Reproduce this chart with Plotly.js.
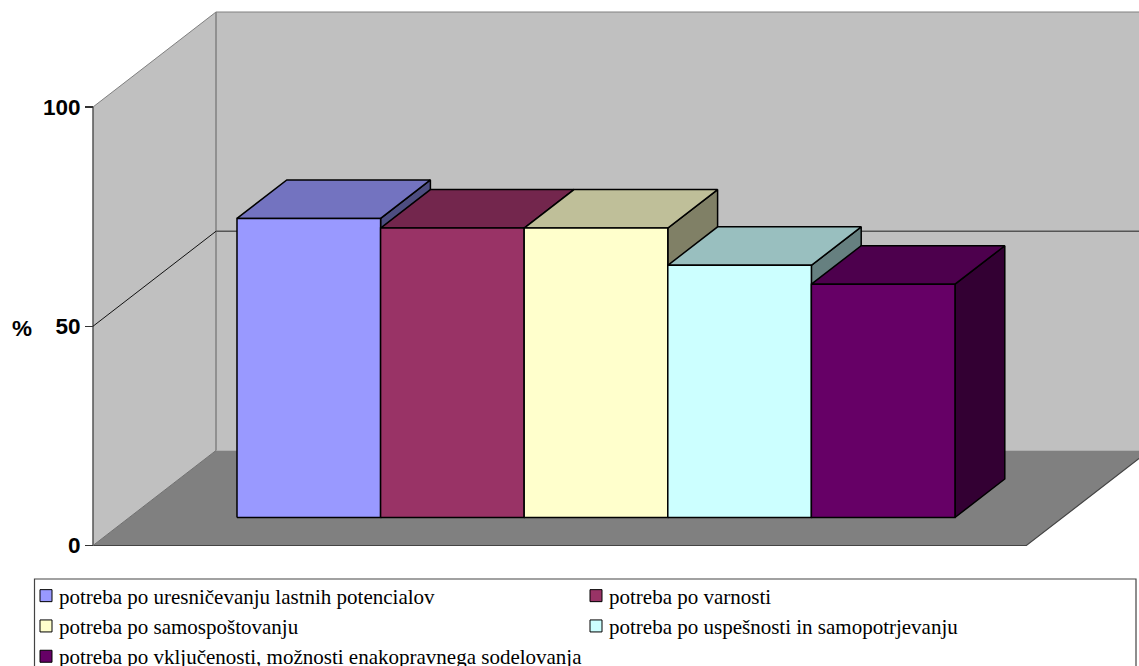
<!DOCTYPE html>
<html><head><meta charset="utf-8">
<script src="https://cdn.plot.ly/plotly-3.0.1.min.js"></script>
<style>html,body{margin:0;padding:0;background:#fff;overflow:hidden;height:666px}#c{width:1139px;height:666px;overflow:hidden}</style>
</head><body><div id="c"></div>
<script>
const seriesNames = [
  "potreba po uresničevanju lastnih potencialov",
  "potreba po varnosti",
  "potreba po samospoštovanju",
  "potreba po uspešnosti in samopotrjevanju",
  "potreba po vključenosti, možnosti enakopravnega sodelovanja"
];
const seriesValues = [68.2, 66, 66, 57.5, 53.2];
const frontColors = ["#9999FF", "#993366", "#FFFFCC", "#CCFFFF", "#660066"];
const topColors   = ["#7373C0", "#73264D", "#BFBF99", "#99BFBF", "#4D004D"];
const sideColors  = ["#4D4D80", "#4D1A33", "#808066", "#668080", "#330033"];
const yTicks = [0, 50, 100];

// Oblique projection of the 3-D chart box onto the 2-D axes
const PW = 1139, PH = 700;
const W = 143.6, H = 4.385, X0 = 93, Y0 = 545.5, DX = 123, DY = 95;
const boxWidth = 6.5, yMax = 100;
const gapLeft = 0.75, depthFront = 0.295, depthBack = 0.70;
const P = (x, v, d) => [x + d * DX / W, v + d * DY / H];
function face(pts, fill, lineColor, lineWidth, opts) {
  const xy = pts.map(p => P(p[0], p[1], p[2]));
  xy.push(xy[0]);
  return Object.assign({
    type: "scatter", mode: "lines", x: xy.map(p => p[0]), y: xy.map(p => p[1]),
    fill: fill ? "toself" : "none", fillcolor: fill || undefined,
    line: {color: lineColor, width: lineWidth}, hoverinfo: "skip", showlegend: false
  }, opts || {});
}
function seg(pts, color, width) {
  const xy = pts.map(p => P(p[0], p[1], p[2]));
  return {type: "scatter", mode: "lines", x: xy.map(p => p[0]), y: xy.map(p => p[1]),
    line: {color: color, width: width}, hoverinfo: "skip", showlegend: false};
}
const traces = [];
// walls and floor
traces.push(face([[0,0,0],[0,0,1],[0,yMax,1],[0,yMax,0]], "#C0C0C0", "rgba(0,0,0,0)", 0));
traces.push(face([[0,0,1],[boxWidth,0,1],[boxWidth,yMax,1],[0,yMax,1]], "#C0C0C0", "rgba(0,0,0,0)", 0));
traces.push(face([[0,0,0],[boxWidth,0,0],[boxWidth,0,1],[0,0,1]], "#808080", "rgba(0,0,0,0)", 0));
// wall edges
traces.push(seg([[0,yMax,0],[0,yMax,1],[boxWidth,yMax,1]], "#808080", 1));
traces.push(seg([[0,0,1],[0,yMax,1]], "#808080", 1.5));
traces.push(seg([[0,0,0],[0,yMax,0]], "#555555", 1.5));
traces.push(seg([[0,0,0],[boxWidth,0,0],[boxWidth,0,1]], "#444444", 1.2));
traces.push(seg([[0,0,0],[0,0,1]], "#707070", 1));
// gridline at 50
traces.push(seg([[0,50,0],[0,50,1]], "#111111", 1));
traces.push(seg([[0,50,1],[boxWidth,50,1]], "#555555", 1.3));
// bars, painted left to right
seriesValues.forEach((v, i) => {
  const a = gapLeft + i, b = a + 1, f = depthFront, k = depthBack;
  traces.push(face([[b,0,f],[b,0,k],[b,v,k],[b,v,f]], sideColors[i], "#000", 1.5));
  traces.push(face([[a,v,f],[b,v,f],[b,v,k],[a,v,k]], topColors[i], "#000", 1.5));
  traces.push(face([[a,0,f],[b,0,f],[b,v,f],[a,v,f]], frontColors[i], "#000", 1.5));
});
// legend keys
seriesNames.forEach((n, i) => {
  traces.push({type: "scatter", mode: "markers", x: [null], y: [null], name: n,
    marker: {symbol: "square", size: 12, color: frontColors[i], line: {color: "#000", width: 1}},
    showlegend: true, hoverinfo: "skip"});
});
const layout = {
  width: PW, height: PH, margin: {l: 0, r: 0, t: 0, b: 0, pad: 0}, autosize: false,
  paper_bgcolor: "#fff", plot_bgcolor: "#fff", showlegend: true,
  font: {family: "Liberation Sans, Arial, sans-serif", color: "#000"},
  xaxis: {visible: false, range: [-X0 / W, (PW - X0) / W], fixedrange: true},
  yaxis: {range: [-(PH - Y0) / H, Y0 / H], anchor: "free", position: X0 / PW,
    tickmode: "array", tickvals: yTicks, ticktext: yTicks.map(String),
    ticks: "outside", ticklen: 8, tickwidth: 1.2, tickcolor: "#333",
    showgrid: false, zeroline: false, showline: false, fixedrange: true,
    tickfont: {family: "Liberation Sans", size: 22.5, color: "#000", weight: 700}},
  legend: {orientation: "h", x: 19 / PW, xanchor: "left", y: 1 - 575.5 / PH, yanchor: "top",
    entrywidth: 505, entrywidthmode: "pixels", itemclick: false, itemdoubleclick: false,
    bgcolor: "rgba(0,0,0,0)", borderwidth: 0, traceorder: "normal",
    font: {family: "Liberation Serif", size: 21, color: "#000"}},
  shapes: [{type: "rect", xref: "paper", yref: "paper", x0: 34.5 / PW, x1: 1136 / PW,
    y0: 1 - 668 / PH, y1: 1 - 579 / PH, line: {color: "#444", width: 1.2}, layer: "below"}],
  annotations: [{text: "<b>%</b>", xref: "paper", yref: "paper", x: 22 / PW, y: 1 - 328 / PH,
    showarrow: false, xanchor: "center", yanchor: "middle",
    font: {family: "Liberation Sans", size: 22.5, color: "#000"}}]
};
Plotly.newPlot("c", traces, layout, {displayModeBar: false, staticPlot: true}).then(() => {
  document.querySelectorAll("#c .legend .legendsymbols").forEach(g => g.setAttribute("transform", "translate(7,0)"));
});
</script></body></html>
